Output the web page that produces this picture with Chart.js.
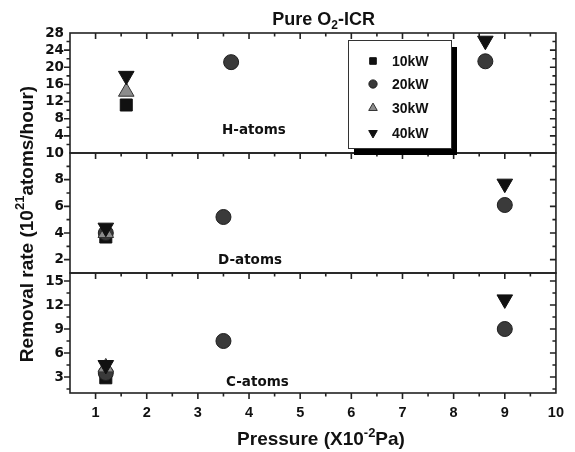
<!DOCTYPE html>
<html>
<head>
<meta charset="utf-8">
<script src="https://cdn.jsdelivr.net/npm/chart.js@4.4.0/dist/chart.umd.min.js"></script>
<style>
  html, body { margin: 0; padding: 0; background: #fff; }
  #wrap { width: 575px; height: 452px; position: relative; }
</style>
</head>
<body>
<div id="wrap"><canvas id="chart" width="575" height="452"></canvas></div>
<script>
// Datos (tasa de remoción, 10^21 átomos/hora)
const powers = ['10kW', '20kW', '30kW', '40kW'];

// H-atoms
const hP10 = [1.6],          hR10 = [11.2];
const hP20 = [3.65, 8.62],   hR20 = [21.2, 21.4];
const hP30 = [1.6],          hR30 = [14.3];
const hP40 = [1.6, 8.62],    hR40 = [18.0, 26.2];

// D-atoms
const dP10 = [1.2],          dR10 = [3.7];
const dP20 = [1.2, 3.5, 9],  dR20 = [4.0, 5.2, 6.1];
const dP30 = [1.2],          dR30 = [4.0];
const dP40 = [1.2, 9],       dR40 = [4.4, 7.7];

// C-atoms
const cP10 = [1.2],          cR10 = [2.9];
const cP20 = [1.2, 3.5, 9],  cR20 = [3.5, 7.5, 9.0];
const cP30 = [1.2],          cR30 = [4.2];
const cP40 = [1.2, 9],       cR40 = [4.5, 12.7];

// Ejes
const xTicks = [1, 2, 3, 4, 5, 6, 7, 8, 9, 10];
const hTicks = [4, 8, 12, 16, 20, 24, 28];
const dTicks = [2, 4, 6, 8, 10];
const cTicks = [3, 6, 9, 12, 15];

const panels = [
    { id: 'yH', label: 'H-atoms', min: 0, max: 28, ticks: hTicks, minor: 2, weight: 3,
      series: [[hP10, hR10], [hP20, hR20], [hP30, hR30], [hP40, hR40]] },
    { id: 'yD', label: 'D-atoms', min: 1, max: 10, ticks: dTicks, minor: 1, weight: 2,
      series: [[dP10, dR10], [dP20, dR20], [dP30, dR30], [dP40, dR40]] },
    { id: 'yC', label: 'C-atoms', min: 1, max: 16, ticks: cTicks, minor: 1.5, weight: 1,
      series: [[cP10, cR10], [cP20, cR20], [cP30, cR30], [cP40, cR40]] }
];

// Estilo de marcador por potencia
const markers = [
    { pointStyle: 'rect',     radius: 8.5, rotation: 0,   fill: '#111111', stroke: '#111111', order: 4 },
    { pointStyle: 'circle',   radius: 7.5, rotation: 0,   fill: '#3a3a3a', stroke: '#1e1e1e', order: 3 },
    { pointStyle: 'triangle', radius: 9,   rotation: 0,   fill: '#8c8c8c', stroke: '#333333', order: 2 },
    { pointStyle: 'triangle', radius: 9,   rotation: 180, fill: '#111111', stroke: '#111111', order: 1 }
];

const FONT = '"Liberation Sans", Arial, sans-serif';
const WIDE = '"DejaVu Sans", sans-serif';
Chart.defaults.font.family = FONT;
Chart.defaults.color = '#111';

const datasets = [];
panels.forEach(p => {
    p.series.forEach((s, i) => {
        const m = markers[i];
        datasets.push({
            label: powers[i],
            yAxisID: p.id,
            data: s[0].map((x, k) => ({ x: x, y: s[1][k] })),
            showLine: false,
            pointStyle: m.pointStyle,
            pointRadius: m.radius,
            pointHoverRadius: m.radius,
            pointRotation: m.rotation,
            pointBackgroundColor: m.fill,
            pointBorderColor: m.stroke,
            pointBorderWidth: 1,
            order: m.order,
            clip: false
        });
    });
});

function yScale(p) {
    return {
        type: 'linear',
        position: 'left',
        stack: 'rate',
        stackWeight: 1,
        weight: p.weight,
        min: p.min,
        max: p.max,
        offset: false,
        grid: { display: false, drawTicks: false },
        border: { display: false },
        ticks: { padding: 6, autoSkip: false, font: { family: WIDE, size: 13.5, weight: 'bold' }, color: '#111' },
        afterBuildTicks: s => { s.ticks = p.ticks.map(v => ({ value: v })); },
        afterFit: s => { s.width = 70; }
    };
}

const scales = {
    x: {
        type: 'linear',
        position: 'bottom',
        min: 0.5,
        max: 10,
        grid: { display: false, drawTicks: false },
        border: { display: false },
        ticks: { padding: 11, autoSkip: false, maxRotation: 0, font: { size: 14.5, weight: 'bold' }, color: '#111' },
        afterBuildTicks: s => { s.ticks = xTicks.map(v => ({ value: v })); },
        afterFit: s => { s.height = 59; }
    }
};
panels.forEach(p => { scales[p.id] = yScale(p); });

// Marco de cada panel + marcas de escala (mayores y menores)
const framePlugin = {
    id: 'frame',
    beforeDatasetsDraw(chart) {
        const ctx = chart.ctx;
        const xs = chart.scales.x;
        const left = chart.chartArea.left, right = chart.chartArea.right;
        ctx.save();
        ctx.strokeStyle = '#222';
        ctx.lineWidth = 1.6;

        const lines = [];
        panels.forEach(p => {
            const ys = chart.scales[p.id];
            ctx.strokeRect(left, ys.top, right - left, ys.bottom - ys.top);
            lines.push(ys.top);

            // marcas Y: hacia afuera a la izquierda, hacia adentro a la derecha
            for (let v = Math.ceil(p.min / p.minor) * p.minor; v <= p.max + 1e-9; v += p.minor) {
                const y = ys.getPixelForValue(v);
                if (y <= ys.top + 0.5 || y >= ys.bottom - 0.5) continue;
                const major = p.ticks.some(t => Math.abs(t - v) < 1e-6);
                const len = major ? 6 : 3.5;
                ctx.beginPath();
                ctx.moveTo(left - len, y); ctx.lineTo(left, y);
                ctx.moveTo(right - len, y); ctx.lineTo(right, y);
                ctx.stroke();
            }
        });
        lines.push(chart.chartArea.bottom);

        // marcas X hacia abajo en cada borde horizontal
        lines.forEach(ly => {
            for (let v = 0.5; v <= 10 + 1e-9; v += 0.5) {
                const x = xs.getPixelForValue(v);
                if (x <= left + 0.5 || x >= right - 0.5) continue;
                const major = Math.abs(v - Math.round(v)) < 1e-6;
                const len = major ? 6 : 3.5;
                ctx.beginPath();
                ctx.moveTo(x, ly); ctx.lineTo(x, ly + len);
                ctx.stroke();
            }
        });

        // etiquetas de panel
        ctx.fillStyle = '#111';
        ctx.font = 'bold 13.5px ' + WIDE;
        ctx.textAlign = 'left';
        ctx.textBaseline = 'alphabetic';
        const labelPos = [[222, 134], [218, 264], [226, 386]];
        panels.forEach((p, i) => ctx.fillText(p.label, labelPos[i][0], labelPos[i][1]));
        ctx.restore();
    },
    afterDatasetsDraw(chart) {
        const ctx = chart.ctx;
        ctx.save();
        // Leyenda con sombra
        const lx = 348, ly = 40, lw = 103, lh = 108;
        ctx.fillStyle = '#000';
        ctx.fillRect(lx + 6, ly + 7, lw, lh);
        ctx.fillStyle = '#fff';
        ctx.fillRect(lx, ly, lw, lh);
        ctx.strokeStyle = '#333';
        ctx.lineWidth = 1;
        ctx.strokeRect(lx + 0.5, ly + 0.5, lw, lh);

        const rows = [61, 84, 108, 133];
        ctx.font = 'bold 14px ' + FONT;
        ctx.textBaseline = 'middle';
        ctx.textAlign = 'left';
        powers.forEach((name, i) => {
            const m = markers[i];
            ctx.fillStyle = m.fill;
            ctx.strokeStyle = m.stroke;
            ctx.lineWidth = 1;
            Chart.helpers.drawPoint(ctx, {
                pointStyle: m.pointStyle,
                radius: m.radius * 0.55,
                rotation: m.rotation,
                borderWidth: 1
            }, 373, rows[i]);
            ctx.fillStyle = '#111';
            ctx.fillText(name, 392, rows[i] + 1);
        });
        ctx.restore();
    },
    afterDraw(chart) {
        const ctx = chart.ctx;
        ctx.save();
        ctx.fillStyle = '#111';
        ctx.textBaseline = 'alphabetic';
        ctx.textAlign = 'left';

        // Título: Pure O2-ICR (termina en x≈375)
        const tparts = [['Pure O', 'bold 18px ', 0], ['2', 'bold 12px ', 4], ['-ICR', 'bold 18px ', 0]];
        let total = 0;
        tparts.forEach(p => { ctx.font = p[1] + FONT; total += ctx.measureText(p[0]).width; });
        let x = 375 - total;
        tparts.forEach(p => { ctx.font = p[1] + FONT; ctx.fillText(p[0], x, 25 + p[2]); x += ctx.measureText(p[0]).width; });

        // Título eje X: Pressure (X10^-2 Pa)
        const parts = [['Pressure (X10', 'bold 19px ', 0], ['-2', 'bold 13px ', -8], ['Pa)', 'bold 19px ', 0]];
        total = 0;
        parts.forEach(p => { ctx.font = p[1] + FONT; total += ctx.measureText(p[0]).width; });
        x = 321 - total / 2;
        parts.forEach(p => { ctx.font = p[1] + FONT; ctx.fillText(p[0], x, 445 + p[2]); x += ctx.measureText(p[0]).width; });

        // Título eje Y: Removal rate (10^21 atoms/hour)
        ctx.translate(33, 224);
        ctx.rotate(-Math.PI / 2);
        const yparts = [['Removal rate (10', 'bold 19px ', 0], ['21', 'bold 13px ', -9], ['atoms/hour)', 'bold 19px ', 0]];
        total = 0;
        yparts.forEach(p => { ctx.font = p[1] + FONT; total += ctx.measureText(p[0]).width; });
        x = -total / 2;
        yparts.forEach(p => { ctx.font = p[1] + FONT; ctx.fillText(p[0], x, p[2]); x += ctx.measureText(p[0]).width; });
        ctx.restore();
    }
};

new Chart(document.getElementById('chart'), {
    type: 'scatter',
    data: { datasets: datasets },
    options: {
        responsive: false,
        animation: false,
        layout: { padding: { top: 33, right: 9, left: 0, bottom: 0 } },
        scales: scales,
        plugins: { legend: { display: false }, tooltip: { enabled: false } }
    },
    plugins: [framePlugin]
});
</script>
</body>
</html>
